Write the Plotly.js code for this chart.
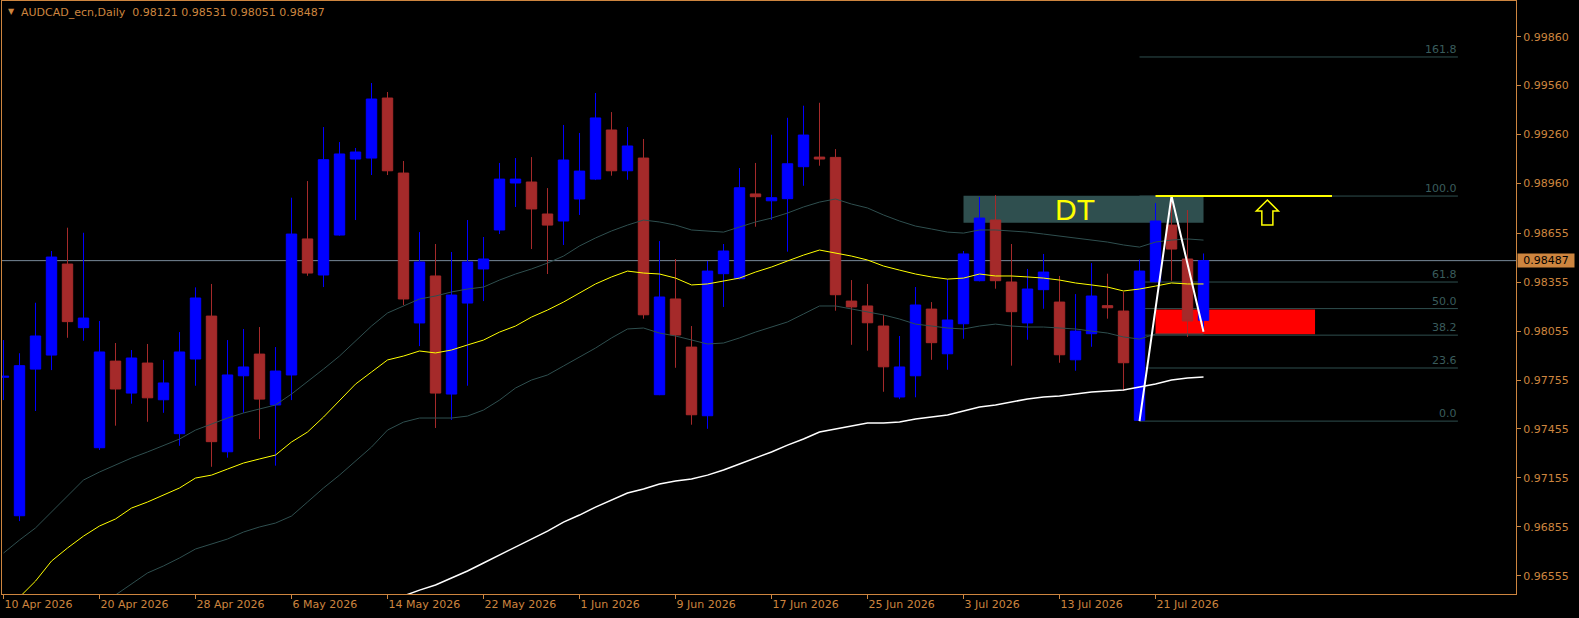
<!DOCTYPE html>
<html><head><meta charset="utf-8">
<script src="https://cdn.plot.ly/plotly-3.0.1.min.js"></script>
<style>html,body{margin:0;padding:0;background:#000;} #chart{width:1579px;height:618px;}</style>
</head><body><div id="chart"></div>
<script>
const symbolName = 'AUDCAD_ecn,Daily';

const dates = [
'2026-04-10','2026-04-13','2026-04-14','2026-04-15','2026-04-16','2026-04-17','2026-04-20','2026-04-21','2026-04-22','2026-04-23',
'2026-04-24','2026-04-27','2026-04-28','2026-04-29','2026-04-30','2026-05-01','2026-05-04','2026-05-05','2026-05-06','2026-05-07',
'2026-05-08','2026-05-11','2026-05-12','2026-05-13','2026-05-14','2026-05-15','2026-05-18','2026-05-19','2026-05-20','2026-05-21',
'2026-05-22','2026-05-25','2026-05-26','2026-05-27','2026-05-28','2026-05-29','2026-06-01','2026-06-02','2026-06-03','2026-06-04',
'2026-06-05','2026-06-08','2026-06-09','2026-06-10','2026-06-11','2026-06-12','2026-06-15','2026-06-16','2026-06-17','2026-06-18',
'2026-06-19','2026-06-22','2026-06-23','2026-06-24','2026-06-25','2026-06-26','2026-06-29','2026-06-30','2026-07-01','2026-07-02',
'2026-07-03','2026-07-06','2026-07-07','2026-07-08','2026-07-09','2026-07-10','2026-07-13','2026-07-14','2026-07-15','2026-07-16',
'2026-07-17','2026-07-20','2026-07-21','2026-07-22','2026-07-23','2026-07-24'];

const openP = [0.97772,0.96923,0.97822,0.97908,0.98466,0.98076,0.97340,0.97871,0.97675,0.97859,
0.97634,0.97426,0.97884,0.98147,0.97315,0.97781,0.97914,0.97602,0.97786,0.98620,
0.98399,0.98644,0.99110,0.99116,0.99484,0.99024,0.98105,0.98393,0.97669,0.98227,
0.98436,0.98675,0.98963,0.98969,0.98773,0.98730,0.98865,0.98987,0.99288,0.99038,
0.99116,0.97665,0.98252,0.97957,0.97536,0.98407,0.98376,0.98896,0.98854,0.98867,
0.99063,0.99122,0.99120,0.98239,0.98209,0.98086,0.97651,0.97781,0.98190,0.97916,
0.98100,0.98364,0.98736,0.98356,0.98105,0.98309,0.98233,0.97879,0.98039,0.98211,
0.98178,0.97508,0.98358,0.98705,0.98497,0.98121];

const highP = [0.98000,0.97919,0.98229,0.98546,0.98689,0.98658,0.98117,0.97982,0.97939,0.97976,
0.97878,0.98049,0.98323,0.98344,0.98000,0.98068,0.98080,0.97957,0.98873,0.98975,
0.99306,0.99214,0.99178,0.99576,0.99521,0.99098,0.98662,0.98589,0.98540,0.98736,
0.98632,0.99086,0.99116,0.99122,0.98932,0.99319,0.99270,0.99515,0.99398,0.99306,
0.99233,0.98607,0.98497,0.98086,0.98485,0.98589,0.99055,0.99086,0.99259,0.99363,
0.99437,0.99455,0.99171,0.98368,0.98344,0.98153,0.98025,0.98325,0.98233,0.98374,
0.98546,0.98877,0.98889,0.98589,0.98436,0.98528,0.98393,0.98282,0.98472,0.98407,
0.98295,0.98493,0.98840,0.98883,0.98797,0.98531];

const lowP = [0.97632,0.96890,0.97565,0.97816,0.98014,0.97996,0.97326,0.97475,0.97610,0.97499,
0.97554,0.97352,0.97720,0.97223,0.97279,0.97554,0.97393,0.97230,0.97632,0.98394,
0.98325,0.98640,0.98736,0.99012,0.99012,0.98215,0.97963,0.97461,0.97510,0.97720,
0.98239,0.98650,0.98816,0.98558,0.98405,0.98583,0.98767,0.98981,0.99008,0.98983,
0.98131,0.97662,0.97830,0.97481,0.97456,0.98203,0.98372,0.98695,0.98736,0.98542,
0.98946,0.99069,0.98180,0.97971,0.97935,0.97683,0.97638,0.97649,0.97879,0.97818,
0.98008,0.98360,0.98315,0.97843,0.98002,0.98192,0.97861,0.97812,0.97959,0.98131,
0.97689,0.97503,0.98355,0.98364,0.98020,0.98051];

const closeP = [0.97778,0.97843,0.98025,0.98509,0.98113,0.98135,0.97927,0.97700,0.97890,0.97646,
0.97737,0.97927,0.98258,0.97377,0.97786,0.97835,0.97638,0.97810,0.98650,0.98411,
0.99106,0.99141,0.99153,0.99478,0.99038,0.98252,0.98479,0.97675,0.98276,0.98479,
0.98497,0.98987,0.98987,0.98804,0.98705,0.99104,0.99036,0.99362,0.99038,0.99190,
0.98155,0.98264,0.98031,0.97542,0.98423,0.98546,0.98934,0.98879,0.98873,0.99081,
0.99257,0.99110,0.98278,0.98203,0.98106,0.97836,0.97835,0.98215,0.97984,0.98123,
0.98528,0.98748,0.98364,0.98174,0.98313,0.98417,0.97910,0.98055,0.98270,0.98198,
0.97861,0.98423,0.98730,0.98558,0.98117,0.98487];

const upperBand = [0.96694,0.96774,0.96848,0.96946,0.97044,0.97142,0.97191,0.97234,0.97277,0.97314,
0.97356,0.97393,0.97448,0.97485,0.97522,0.97553,0.97577,0.97602,0.97669,0.97743,
0.97822,0.97902,0.97994,0.98086,0.98166,0.98209,0.98252,0.98270,0.98295,0.98313,
0.98325,0.98368,0.98405,0.98436,0.98472,0.98515,0.98577,0.98626,0.98669,0.98705,
0.98736,0.98724,0.98705,0.98675,0.98669,0.98662,0.98693,0.98724,0.98748,0.98779,
0.98816,0.98846,0.98865,0.98834,0.98810,0.98767,0.98730,0.98699,0.98681,0.98662,
0.98656,0.98675,0.98675,0.98669,0.98662,0.98650,0.98638,0.98626,0.98613,0.98601,
0.98583,0.98570,0.98601,0.98613,0.98620,0.98613];

const yellowMA = [0.96326,0.96424,0.96522,0.96645,0.96725,0.96798,0.96860,0.96903,0.96970,0.97007,
0.97050,0.97093,0.97154,0.97172,0.97209,0.97246,0.97271,0.97295,0.97375,0.97436,
0.97528,0.97632,0.97730,0.97804,0.97878,0.97902,0.97933,0.97921,0.97939,0.97970,
0.98000,0.98049,0.98086,0.98141,0.98184,0.98233,0.98288,0.98344,0.98387,0.98423,
0.98411,0.98405,0.98380,0.98338,0.98344,0.98362,0.98380,0.98417,0.98448,0.98485,
0.98521,0.98552,0.98534,0.98515,0.98491,0.98454,0.98429,0.98405,0.98387,0.98374,
0.98380,0.98405,0.98393,0.98393,0.98387,0.98380,0.98368,0.98350,0.98338,0.98325,
0.98301,0.98313,0.98331,0.98350,0.98344,0.98344];

const lowerBand = [0.95977,0.96069,0.96130,0.96191,0.96253,0.96308,0.96369,0.96437,0.96504,0.96572,
0.96615,0.96664,0.96719,0.96749,0.96780,0.96823,0.96854,0.96878,0.96921,0.97007,
0.97093,0.97172,0.97258,0.97344,0.97448,0.97497,0.97522,0.97522,0.97522,0.97534,
0.97571,0.97632,0.97706,0.97755,0.97786,0.97841,0.97896,0.97951,0.98013,0.98068,
0.98074,0.98043,0.98025,0.98000,0.97976,0.97982,0.98013,0.98049,0.98080,0.98111,
0.98160,0.98209,0.98209,0.98190,0.98172,0.98154,0.98129,0.98098,0.98086,0.98074,
0.98068,0.98086,0.98098,0.98086,0.98080,0.98080,0.98074,0.98068,0.98055,0.98043,
0.98019,0.98006,0.98037,0.98037,0.98037,0.98037];

const whiteMA = [null,null,null,null,null,null,null,null,null,null,
null,null,null,null,null,null,null,null,null,null,
null,null,null,null,0.96400,0.96431,0.96467,0.96498,0.96541,0.96584,
0.96633,0.96682,0.96731,0.96780,0.96829,0.96884,0.96927,0.96976,0.97019,0.97062,
0.97087,0.97117,0.97136,0.97148,0.97172,0.97203,0.97240,0.97277,0.97314,0.97356,
0.97393,0.97436,0.97455,0.97473,0.97491,0.97491,0.97497,0.97516,0.97528,0.97540,
0.97565,0.97589,0.97602,0.97620,0.97639,0.97651,0.97657,0.97669,0.97681,0.97688,
0.97694,0.97712,0.97730,0.97755,0.97767,0.97773];

const tickDates = ['2026-04-10','2026-04-20','2026-04-28','2026-05-06','2026-05-14','2026-05-22','2026-06-01','2026-06-09','2026-06-17','2026-06-25','2026-07-03','2026-07-13','2026-07-21'];
const tickLabels = ['10 Apr 2026','20 Apr 2026','28 Apr 2026','6 May 2026','14 May 2026','22 May 2026','1 Jun 2026','9 Jun 2026','17 Jun 2026','25 Jun 2026','3 Jul 2026','13 Jul 2026','21 Jul 2026'];
const yTickVals = [0.99860,0.99560,0.99260,0.98960,0.98655,0.98355,0.98055,0.97755,0.97455,0.97155,0.96855,0.96555];

const fibRatios = [0.0, 23.6, 38.2, 50.0, 61.8, 100.0, 161.8];
const zigzagIdx = [71, 73, 75];
const dtZone = {from: '2026-07-03', to: '2026-07-24', top: 0.98885, bottom: 0.98719, label: 'DT'};
const redZone = {from: 72, to: 81.97, top: 0.98188, bottom: 0.98035};
const levelLine = {from: 72, to: 83.03};
const fibSpan = {from: 71, to: 90.9};

const ORANGE = '#CD853F';
const SLATE = '#2F4F4F';
const FONT = 'DejaVu Sans';
const last = closeP.length - 1;

const zigY = [lowP[zigzagIdx[0]], highP[zigzagIdx[1]], lowP[zigzagIdx[2]]];
const fib0 = zigY[0], fib100 = zigY[1];
const fibLevels = fibRatios.map(r => fib0 + r / 100 * (fib100 - fib0));

const traces = [
  {type:'candlestick', x:dates, open:openP, high:highP, low:lowP, close:closeP,
   increasing:{line:{color:'#0000FF', width:1}, fillcolor:'#0000FF'},
   decreasing:{line:{color:'#A52A2A', width:1}, fillcolor:'#A52A2A'},
   whiskerwidth:0, hoverinfo:'skip'},
  {type:'scatter', mode:'lines', x:dates, y:whiteMA, line:{color:'#FFFFFF', width:1.5}, hoverinfo:'skip'},
  {type:'scatter', mode:'lines', x:dates, y:upperBand, line:{color:SLATE, width:1}, hoverinfo:'skip'},
  {type:'scatter', mode:'lines', x:dates, y:lowerBand, line:{color:SLATE, width:1}, hoverinfo:'skip'},
  {type:'scatter', mode:'lines', x:dates, y:yellowMA, line:{color:'#FFFF00', width:1}, hoverinfo:'skip'},
  {type:'scatter', mode:'lines', x:zigzagIdx.map(i => dates[i]), y:zigY, line:{color:'#FFFFFF', width:2}, hoverinfo:'skip'}
];

const shapes = [
  {type:'rect', layer:'below', xref:'x', yref:'y', x0:dtZone.from, x1:dtZone.to, y0:dtZone.bottom, y1:dtZone.top, fillcolor:SLATE, line:{width:0}},
  {type:'rect', layer:'below', xref:'x', yref:'y', x0:redZone.from, x1:redZone.to, y0:redZone.bottom, y1:redZone.top, fillcolor:'#FF0000', line:{width:0}},
  {type:'line', layer:'below', xref:'paper', yref:'y', x0:0, x1:1, y0:closeP[last], y1:closeP[last], line:{color:'#778899', width:1}},
  {type:'line', layer:'above', xref:'x', yref:'y', x0:levelLine.from, x1:levelLine.to, y0:fib100, y1:fib100, line:{color:'#FFFF00', width:2}}
];
fibLevels.forEach(v => shapes.push({type:'line', layer:'below', xref:'x', yref:'y', x0:fibSpan.from, x1:fibSpan.to, y0:v, y1:v, line:{color:SLATE, width:1}}));

// hollow up arrow marker
const ax = 78.99, aw = 0.69, sw = 0.345;
const aTip = 0.98859, aBase = 0.98791, aBot = 0.98705;
shapes.push({type:'path', layer:'above', xref:'x', yref:'y',
  path:`M ${ax} ${aTip} L ${ax+aw} ${aBase} L ${ax+sw} ${aBase} L ${ax+sw} ${aBot} L ${ax-sw} ${aBot} L ${ax-sw} ${aBase} L ${ax-aw} ${aBase} Z`,
  line:{color:'#FFFF00', width:1.5}});

const annotations = [
  {xref:'paper', yref:'paper', x:0, y:1, xanchor:'left', yanchor:'top', xshift:17, yshift:-3, showarrow:false,
   text: `${symbolName}  ${openP[last].toFixed(5)} ${highP[last].toFixed(5)} ${lowP[last].toFixed(5)} ${closeP[last].toFixed(5)}`,
   font:{family:FONT, size:11, color:ORANGE}},
  {xref:'paper', yref:'paper', x:0, y:1, xanchor:'center', yanchor:'top', xshift:9, yshift:-4, showarrow:false,
   text:'▼', font:{family:FONT, size:8, color:ORANGE}},
  {xref:'x', yref:'y', x:66.97, y:(dtZone.top + dtZone.bottom) / 2, showarrow:false, text:dtZone.label,
   font:{family:'Liberation Sans', size:30, color:'#FFFF00'}},
  {xref:'paper', yref:'y', x:1, y:closeP[last], xanchor:'left', yanchor:'middle', xshift:1, showarrow:false,
   text:closeP[last].toFixed(5), bgcolor:ORANGE, borderpad:0, width:56, height:13,
   font:{family:FONT, size:11, color:'#000000'}}
];
fibRatios.forEach((r, k) => annotations.push({xref:'x', yref:'y', x:fibSpan.to, y:fibLevels[k], xanchor:'right', yanchor:'bottom',
  showarrow:false, text:r.toFixed(1), borderpad:0, font:{family:FONT, size:11, color:'#3A5C5C'}}));

const layout = {
  width:1579, height:618,
  paper_bgcolor:'#000000', plot_bgcolor:'#000000',
  margin:{l:2, r:63, t:1, b:24, pad:0},
  showlegend:false,
  boxgap:0.35, boxgroupgap:0,
  font:{family:FONT, size:11, color:ORANGE},
  xaxis:{type:'category', range:[-0.094, 94.53], autorange:false, rangeslider:{visible:false},
    showgrid:false, zeroline:false, showline:true, mirror:true, linecolor:ORANGE, linewidth:1,
    ticks:'outside', ticklen:4, tickcolor:ORANGE, tickvals:tickDates, ticktext:tickLabels,
    ticklabelposition:'outside right', tickfont:{family:FONT, size:11, color:ORANGE}},
  yaxis:{side:'right', range:[0.96443, 1.00079], autorange:false,
    showgrid:false, zeroline:false, showline:true, mirror:true, linecolor:ORANGE, linewidth:1,
    ticks:'outside', ticklen:4, tickcolor:ORANGE, tickvals:yTickVals, tickformat:'.5f',
    tickfont:{family:FONT, size:11, color:ORANGE}},
  shapes:shapes,
  annotations:annotations
};

Plotly.newPlot('chart', traces, layout, {displayModeBar:false, staticPlot:true});
</script>
</body></html>
